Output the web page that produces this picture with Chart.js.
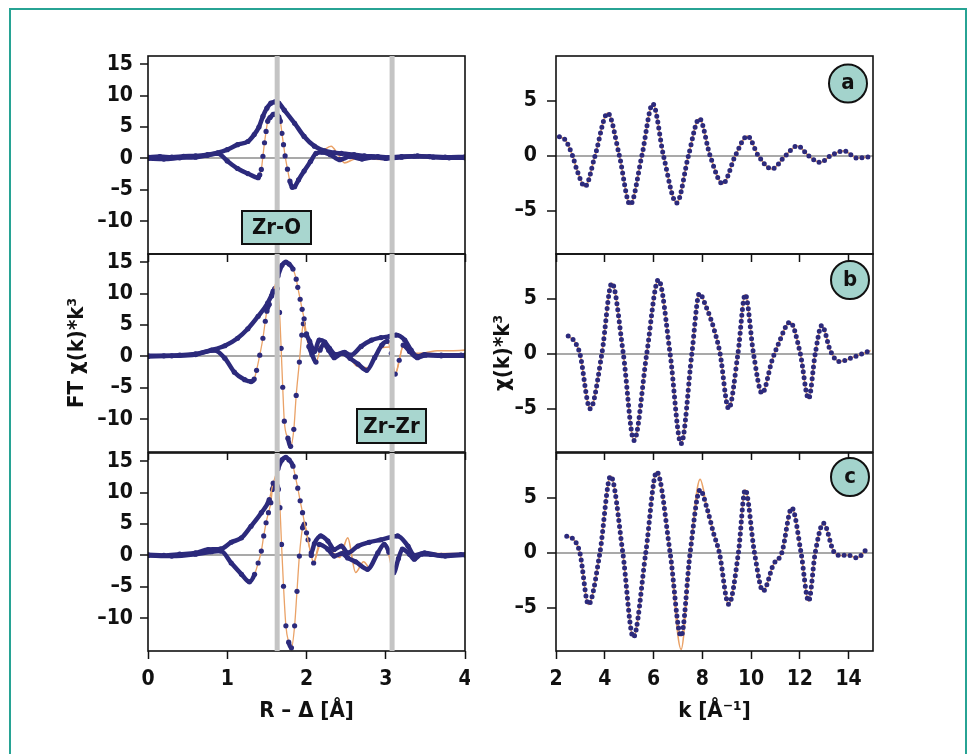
<!DOCTYPE html>
<html>
<head>
<meta charset="utf-8">
<script src="https://cdn.jsdelivr.net/npm/chart.js@4.4.1/dist/chart.umd.min.js"></script>
<style>
    body { margin: 0; background: #fff; width: 976px; height: 754px; overflow: hidden; position: relative; }
    #frame { position: absolute; left: 9px; top: 8px; width: 958px; height: 760px; border: 2px solid #27a394; box-sizing: border-box; }
    canvas { position: absolute; }
</style>
</head>
<body>
<div id="frame"></div>
<canvas id="ft1"></canvas>
<canvas id="ft2"></canvas>
<canvas id="ft3"></canvas>
<canvas id="chiA"></canvas>
<canvas id="chiB"></canvas>
<canvas id="chiC"></canvas>
<script>
// ---- tick labels ----
const rXTicks = [0, 1, 2, 3, 4];
const kXTicks = [2, 4, 6, 8, 10, 12, 14];
const ftYTicks = [-10, -5, 0, 5, 10, 15];
const chiYTicks = [-5, 0, 5];
const bandR = [1.63, 3.08];

// ---- FT panel 1 (Zr-O) ----
const magR1 = [0, 0.15, 0.3, 0.45, 0.6, 0.75, 0.88, 1.0, 1.13, 1.26, 1.34, 1.4, 1.45, 1.5, 1.55, 1.6, 1.65, 1.72, 1.85, 1.97, 2.1, 2.23, 2.35, 2.44, 2.6, 2.73, 2.9, 3.03, 3.2, 3.36, 3.55, 3.75, 4.0];
const mag1 = [0.2, 0.3, 0.2, 0.35, 0.4, 0.6, 0.9, 1.4, 2.2, 2.7, 3.8, 5.0, 6.7, 8.0, 8.8, 9.0, 8.8, 7.7, 5.6, 3.5, 1.95, 1.2, 0.9, 0.8, 0.6, 0.4, 0.3, 0.15, 0.3, 0.35, 0.3, 0.2, 0.25];
const imR1 = [0, 0.2, 0.4, 0.6, 0.75, 0.88, 1.0, 1.13, 1.26, 1.39, 1.41, 1.43, 1.45, 1.47, 1.49, 1.51, 1.54, 1.58, 1.62, 1.65, 1.67, 1.69, 1.71, 1.73, 1.76, 1.79, 1.82, 1.85, 1.9, 1.97, 2.05, 2.12, 2.2, 2.3, 2.42, 2.55, 2.7, 2.85, 3.0, 3.2, 3.4, 3.6, 3.8, 4.0];
const im1 = [0, -0.1, 0.1, 0.2, 0.5, 0.8, -0.4, -1.6, -2.4, -3.05, -2.6, -1.75, 0.35, 2.5, 4.3, 5.9, 6.5, 7.0, 7.1, 6.6, 5.9, 4.0, 2.2, 0.4, -1.7, -3.6, -4.6, -4.5, -3.4, -2.0, -0.5, 0.8, 1.0, 0.6, -0.2, 0.3, -0.1, 0.2, 0.0, 0.2, 0.4, 0.2, 0.1, 0.1];
const fitR1 = [2.1, 2.2, 2.31, 2.4, 2.48, 2.58, 2.69, 2.8, 2.94, 3.1, 3.25, 3.4, 3.57, 3.75, 4.0];
const fit1 = [0.8, 1.2, 1.95, 0.6, -0.7, -0.2, 0.35, 0.0, -0.15, 0.1, 0.3, 0.6, 0.4, 0.2, 0.2];

// ---- FT panel 2 (Zr-Zr) ----
const magR2 = [0, 0.2, 0.4, 0.6, 0.8, 0.97, 1.13, 1.26, 1.39, 1.51, 1.58, 1.64, 1.69, 1.74, 1.78, 1.83, 1.87, 1.89, 1.92, 1.945, 1.97, 2.0, 2.04, 2.08, 2.1, 2.16, 2.23, 2.29, 2.37, 2.48, 2.56, 2.69, 2.82, 2.94, 3.05, 3.13, 3.24, 3.32, 3.4, 3.49, 3.7, 3.95, 4.0];
const mag2 = [0.1, 0.1, 0.2, 0.4, 1.0, 1.7, 2.9, 4.4, 6.4, 8.5, 10.4, 12.8, 14.5, 15.0, 14.7, 13.9, 12.3, 11.0, 9.1, 7.5, 6.0, 3.6, 2.4, 1.1, 0.8, 2.6, 2.3, 1.3, 0.3, 0.65, 0.2, 1.6, 2.6, 3.0, 3.2, 3.4, 2.6, 1.0, 0.0, 0.3, 0.2, 0.2, 0.2];
const imR2 = [0, 0.3, 0.6, 0.84, 0.97, 1.09, 1.22, 1.3, 1.34, 1.37, 1.41, 1.45, 1.48, 1.5, 1.53, 1.56, 1.6, 1.63, 1.66, 1.68, 1.7, 1.72, 1.765, 1.8, 1.84, 1.87, 1.91, 1.94, 1.96, 1.99, 2.03, 2.07, 2.12, 2.17, 2.22, 2.28, 2.35, 2.45, 2.55, 2.65, 2.76, 2.86, 2.95, 3.02, 3.07, 3.12, 3.17, 3.22, 3.3, 3.4, 3.5, 3.7, 4.0];
const im2 = [0, 0.1, 0.3, 1.0, -0.3, -2.5, -3.7, -4.0, -3.6, -2.2, 0.2, 2.9, 5.6, 7.2, 8.3, 9.6, 10.8, 10.8, 7.0, 1.3, -4.9, -10.3, -13.0, -14.3, -11.6, -6.2, -0.9, 3.4, 5.2, 3.4, 1.6, 0.3, -0.9, 1.0, 2.0, 1.0, -0.2, 0.5, -0.3, -1.2, -2.2, -0.2, 1.8, 2.4, 0.5, -2.8, -0.6, 1.8, 0.8, -0.2, 0.2, 0.1, 0.1];
const fitR2 = [2.1, 2.2, 2.35, 2.5, 2.62, 2.78, 2.95, 3.05, 3.12, 3.22, 3.35, 3.5, 3.65, 3.8, 4.0];
const fit2 = [0.5, 1.8, 0.0, 0.5, -1.4, -1.8, 1.4, 1.5, -2.8, 1.5, 0.5, 0.6, 0.9, 0.9, 1.0];

// ---- FT panel 3 ----
const magR3 = [0, 0.2, 0.4, 0.6, 0.76, 0.92, 1.05, 1.18, 1.3, 1.43, 1.53, 1.58, 1.64, 1.69, 1.74, 1.78, 1.83, 1.86, 1.89, 1.92, 1.95, 2.0, 2.06, 2.1, 2.18, 2.27, 2.35, 2.44, 2.52, 2.65, 2.79, 2.94, 3.15, 3.28, 3.36, 3.49, 3.7, 3.95, 4.0];
const mag3 = [0.1, 0.0, 0.2, 0.4, 0.95, 1.05, 2.1, 2.8, 4.65, 6.8, 8.9, 11.5, 13.8, 15.2, 15.6, 15.2, 14.2, 12.5, 10.7, 8.7, 6.8, 3.6, 0.4, 1.9, 3.1, 2.3, 0.95, 1.5, 0.4, 1.5, 2.1, 2.5, 3.1, 1.5, 0.0, 0.4, 0.0, 0.15, 0.1];
const imR3 = [0, 0.3, 0.6, 0.8, 0.92, 1.05, 1.18, 1.28, 1.345, 1.39, 1.43, 1.46, 1.49, 1.52, 1.55, 1.57, 1.61, 1.645, 1.665, 1.685, 1.71, 1.74, 1.775, 1.81, 1.85, 1.88, 1.91, 1.95, 1.975, 2.02, 2.06, 2.09, 2.16, 2.27, 2.35, 2.45, 2.52, 2.62, 2.77, 2.9, 2.98, 3.04, 3.1, 3.16, 3.21, 3.3, 3.36, 3.45, 3.57, 3.75, 4.0];
const im3 = [0, -0.1, 0.2, 0.6, 0.7, -1.2, -3.0, -4.2, -3.0, -1.2, 0.7, 3.1, 5.2, 6.8, 8.4, 10.5, 11.5, 10.5, 7.6, 1.75, -4.9, -11.2, -13.8, -14.7, -11.2, -5.7, -0.1, 4.4, 5.0, 2.5, 0.0, -1.2, 1.75, 1.0, -0.1, 0.3, -0.4, -1.0, -2.2, 0.4, 1.75, 0.5, -2.75, -0.5, 1.0, 0.2, -0.6, 0.2, 0.15, -0.1, 0.1];
const fitR3 = [2.1, 2.18, 2.3, 2.42, 2.52, 2.62, 2.72, 2.8, 2.92, 3.0, 3.1, 3.2, 3.35, 3.5, 3.7, 4.0];
const fit3 = [-1.0, 1.7, 0.8, -0.3, 2.8, -2.7, -1.0, -2.0, 0.8, 1.6, -2.6, 1.0, -0.4, 0.4, 0.3, 0.3];

// ---- chi(k)*k^3 panels ----
const kA = [2.14, 2.38, 2.68, 2.86, 3.19, 3.6, 4.12, 4.6, 5.04, 5.52, 5.97, 6.41, 6.95, 7.43, 7.88, 8.32, 8.84, 9.35, 9.85, 10.3, 10.85, 11.4, 11.9, 12.36, 12.84, 13.25, 13.8, 14.35, 14.82];
const chiA = [1.75, 1.45, 0, -1.3, -2.8, 0, 3.9, 0, -4.45, 0, 4.73, 0, -4.3, 0, 3.4, 0, -2.55, 0, 1.8, 0, -1.2, 0, 0.9, 0, -0.6, 0, 0.45, -0.2, -0.1];
const kB = [2.5, 2.77, 2.98, 3.4, 3.88, 4.29, 4.76, 5.2, 5.72, 6.2, 6.68, 7.13, 7.57, 7.88, 8.17, 8.46, 8.73, 9.08, 9.46, 9.76, 10.1, 10.45, 10.86, 11.13, 11.6, 12.02, 12.36, 12.63, 12.9, 13.25, 13.6, 14.2, 14.9];
const chiB = [1.62, 1.1, 0, -5.0, 0, 6.45, 0, -7.9, 0, 6.75, 0, -8.2, 0, 5.5, 4.2, 2.4, 0, -5.0, 0, 5.4, 0, -3.6, -0.6, 0.95, 2.9, 0, -4.1, 0, 2.6, 0.3, -0.7, -0.3, 0.3];
const kC = [2.44, 2.7, 2.98, 3.33, 3.8, 4.24, 4.74, 5.17, 5.68, 6.13, 6.68, 7.13, 7.5, 7.91, 8.2, 8.46, 8.7, 9.08, 9.48, 9.76, 10.14, 10.49, 10.92, 11.26, 11.67, 12.05, 12.36, 12.63, 12.97, 13.38, 13.66, 13.93, 14.35, 14.75];
const chiC = [1.5, 1.27, 0, -4.7, 0, 7.0, 0, -7.7, 0, 7.4, 0, -7.6, 0, 5.75, 4.0, 1.8, 0, -4.7, 0, 5.75, 0, -3.5, -1.05, 0, 4.1, 0, -4.4, 0, 2.7, 0.15, -0.25, -0.2, -0.45, 0.35];
const kFitC = [6.68, 7.13, 7.5, 7.91, 8.2, 8.46];
const fitC = [0, -8.8, 0, 6.7, 4.0, 1.8];

const FONT = "'Liberation Sans Narrow', 'DejaVu Sans Condensed', 'Arial Narrow', sans-serif";
const NAVY = '#2c2a7c';
const ORANGE = '#eaa267';
const INK = '#111';

const ROW_TOP = [56, 254, 453];
const PANEL_H = 198;
const PAD_TOP = 12;

function pts(xs, ys) {
    return xs.map((x, i) => ({ x: x, y: ys[i] }));
}

// steep pieces of the FT curves show separate dots joined by the thin fit line
const steep = c => Math.abs(c.p1.y - c.p0.y) > 3 * Math.abs(c.p1.x - c.p0.x);

function ftLine(data) {
    return {
        data: data, borderColor: NAVY, borderWidth: 4.5, pointRadius: 2.6,
        pointBackgroundColor: NAVY, pointBorderWidth: 0, cubicInterpolationMode: 'monotone',
        segment: {
            borderColor: c => steep(c) ? ORANGE : undefined,
            borderWidth: c => steep(c) ? 1.3 : undefined
        }
    };
}

// chi data: a chain of round dots over the thin fit line
function chiDots(data) {
    return {
        data: data, borderColor: NAVY, borderWidth: 5, borderDash: [0, 6], borderCapStyle: 'round',
        pointRadius: 0, cubicInterpolationMode: 'monotone'
    };
}

function fitLine(data) {
    return { data: data, borderColor: ORANGE, borderWidth: 1.6, pointRadius: 0, cubicInterpolationMode: 'monotone' };
}

// keep the plot area exactly where the canvas padding puts it
function noPad(s) {
    s.paddingTop = 0;
    s.paddingBottom = 0;
    s.paddingLeft = 0;
    s.paddingRight = 0;
}

function panelPlugin(extra) {
    return {
        id: 'panel',
        afterDatasetsDraw(chart) {
            const { ctx, chartArea: a, scales } = chart;
            ctx.save();
            ctx.strokeStyle = INK;
            ctx.lineWidth = 1.6;
            ctx.strokeRect(a.left, a.top, a.right - a.left, a.bottom - a.top);
            if (extra.bands) {
                ctx.fillStyle = '#c4c4c4';
                extra.bands.forEach(r => {
                    const x = scales.x.getPixelForValue(r);
                    ctx.fillRect(x - 2.5, a.top, 5, a.bottom - a.top);
                });
            }
            ctx.font = 'bold 22px ' + FONT;
            ctx.textAlign = 'center';
            ctx.textBaseline = 'middle';
            if (extra.box) {
                const b = extra.box;
                ctx.fillStyle = '#a8d6cf';
                ctx.fillRect(a.left + b.dx, a.top + b.dy, b.w, b.h);
                ctx.lineWidth = 2;
                ctx.strokeRect(a.left + b.dx, a.top + b.dy, b.w, b.h);
                ctx.fillStyle = INK;
                ctx.fillText(b.text, a.left + b.dx + b.w / 2, a.top + b.dy + b.h / 2 + 1);
            }
            if (extra.circle) {
                const c = extra.circle;
                ctx.beginPath();
                ctx.arc(a.right - c.dx, a.top + c.dy, 19, 0, Math.PI * 2);
                ctx.fillStyle = '#a3d3cc';
                ctx.fill();
                ctx.lineWidth = 2;
                ctx.stroke();
                ctx.fillStyle = INK;
                ctx.fillText(c.text, a.right - c.dx, a.top + c.dy);
            }
            ctx.restore();
        }
    };
}

function makePanel(id, col, row, datasets, extra) {
    const left = col === 0;
    const bottom = row === 2;
    const canvas = document.getElementById(id);
    const w = left ? 410 : 408;
    const h = PAD_TOP + PANEL_H + (bottom ? 73 : 9);
    canvas.width = w;
    canvas.height = h;
    canvas.style.left = (left ? 60 : 470) + 'px';
    canvas.style.top = (ROW_TOP[row] - PAD_TOP) + 'px';
    canvas.style.width = w + 'px';
    canvas.style.height = h + 'px';

    const tickFont = { family: FONT, size: 21, weight: 'bold' };
    const titleFont = { family: FONT, size: 22, weight: 'bold' };

    return new Chart(canvas.getContext('2d'), {
        type: 'line',
        data: { datasets: datasets },
        plugins: [panelPlugin(extra)],
        options: {
            responsive: false,
            animation: false,
            devicePixelRatio: 1,
            layout: { padding: { top: PAD_TOP, right: 5, left: 0, bottom: 0 } },
            plugins: { legend: { display: false }, tooltip: { enabled: false } },
            scales: {
                x: {
                    type: 'linear',
                    min: left ? 0 : 2,
                    max: left ? 4 : 15,
                    afterBuildTicks: s => { s.ticks = (left ? rXTicks : kXTicks).map(v => ({ value: v })); },
                    afterFit: s => { s.height = bottom ? 73 : 9; noPad(s); },
                    grid: { drawOnChartArea: false, tickLength: 8, tickColor: INK, tickWidth: 1.5 },
                    border: { display: false },
                    ticks: { display: bottom, padding: 8, maxRotation: 0, autoSkip: false, font: tickFont, color: INK },
                    title: { display: bottom, text: left ? 'R – Δ [Å]' : 'k [Å⁻¹]', font: titleFont, color: INK, padding: 0 }
                },
                y: {
                    min: left ? -15.2 : -8.95,
                    max: left ? 16.3 : 9.1,
                    afterBuildTicks: s => { s.ticks = (left ? ftYTicks : chiYTicks).map(v => ({ value: v })); },
                    afterFit: s => { s.width = left ? 88 : 86; noPad(s); },
                    grid: {
                        color: c => (c.tick && c.tick.value === 0) ? '#a9a9a9' : 'rgba(0,0,0,0)',
                        lineWidth: 2, tickColor: INK, tickWidth: 1.5, tickLength: left ? 8 : 9
                    },
                    border: { display: false },
                    ticks: { padding: left ? 7 : 10, font: tickFont, color: INK, callback: v => String(v).replace('-', '–') },
                    title: {
                        display: row === 1, text: left ? 'FT χ(k)*k³' : 'χ(k)*k³', font: titleFont, color: INK,
                        padding: { top: left ? 4 : 20, bottom: 0 }
                    }
                }
            }
        }
    });
}

makePanel('ft1', 0, 0, [ftLine(pts(magR1, mag1)), ftLine(pts(imR1, im1)), fitLine(pts(fitR1, fit1))],
    { bands: bandR, box: { text: 'Zr-O', dx: 94, dy: 155, w: 69, h: 33 } });
makePanel('ft2', 0, 1, [ftLine(pts(magR2, mag2)), ftLine(pts(imR2, im2)), fitLine(pts(fitR2, fit2))],
    { bands: bandR, box: { text: 'Zr-Zr', dx: 209, dy: 155, w: 69, h: 34 } });
makePanel('ft3', 0, 2, [ftLine(pts(magR3, mag3)), ftLine(pts(imR3, im3)), fitLine(pts(fitR3, fit3))],
    { bands: bandR });
makePanel('chiA', 1, 0, [chiDots(pts(kA, chiA)), fitLine(pts(kA, chiA))], { circle: { text: 'a', dx: 25, dy: 27.5 } });
makePanel('chiB', 1, 1, [chiDots(pts(kB, chiB)), fitLine(pts(kB, chiB))], { circle: { text: 'b', dx: 23, dy: 26 } });
makePanel('chiC', 1, 2, [chiDots(pts(kC, chiC)), fitLine(pts(kC, chiC)), fitLine(pts(kFitC, fitC))], { circle: { text: 'c', dx: 23, dy: 24 } });
</script>
</body>
</html>
